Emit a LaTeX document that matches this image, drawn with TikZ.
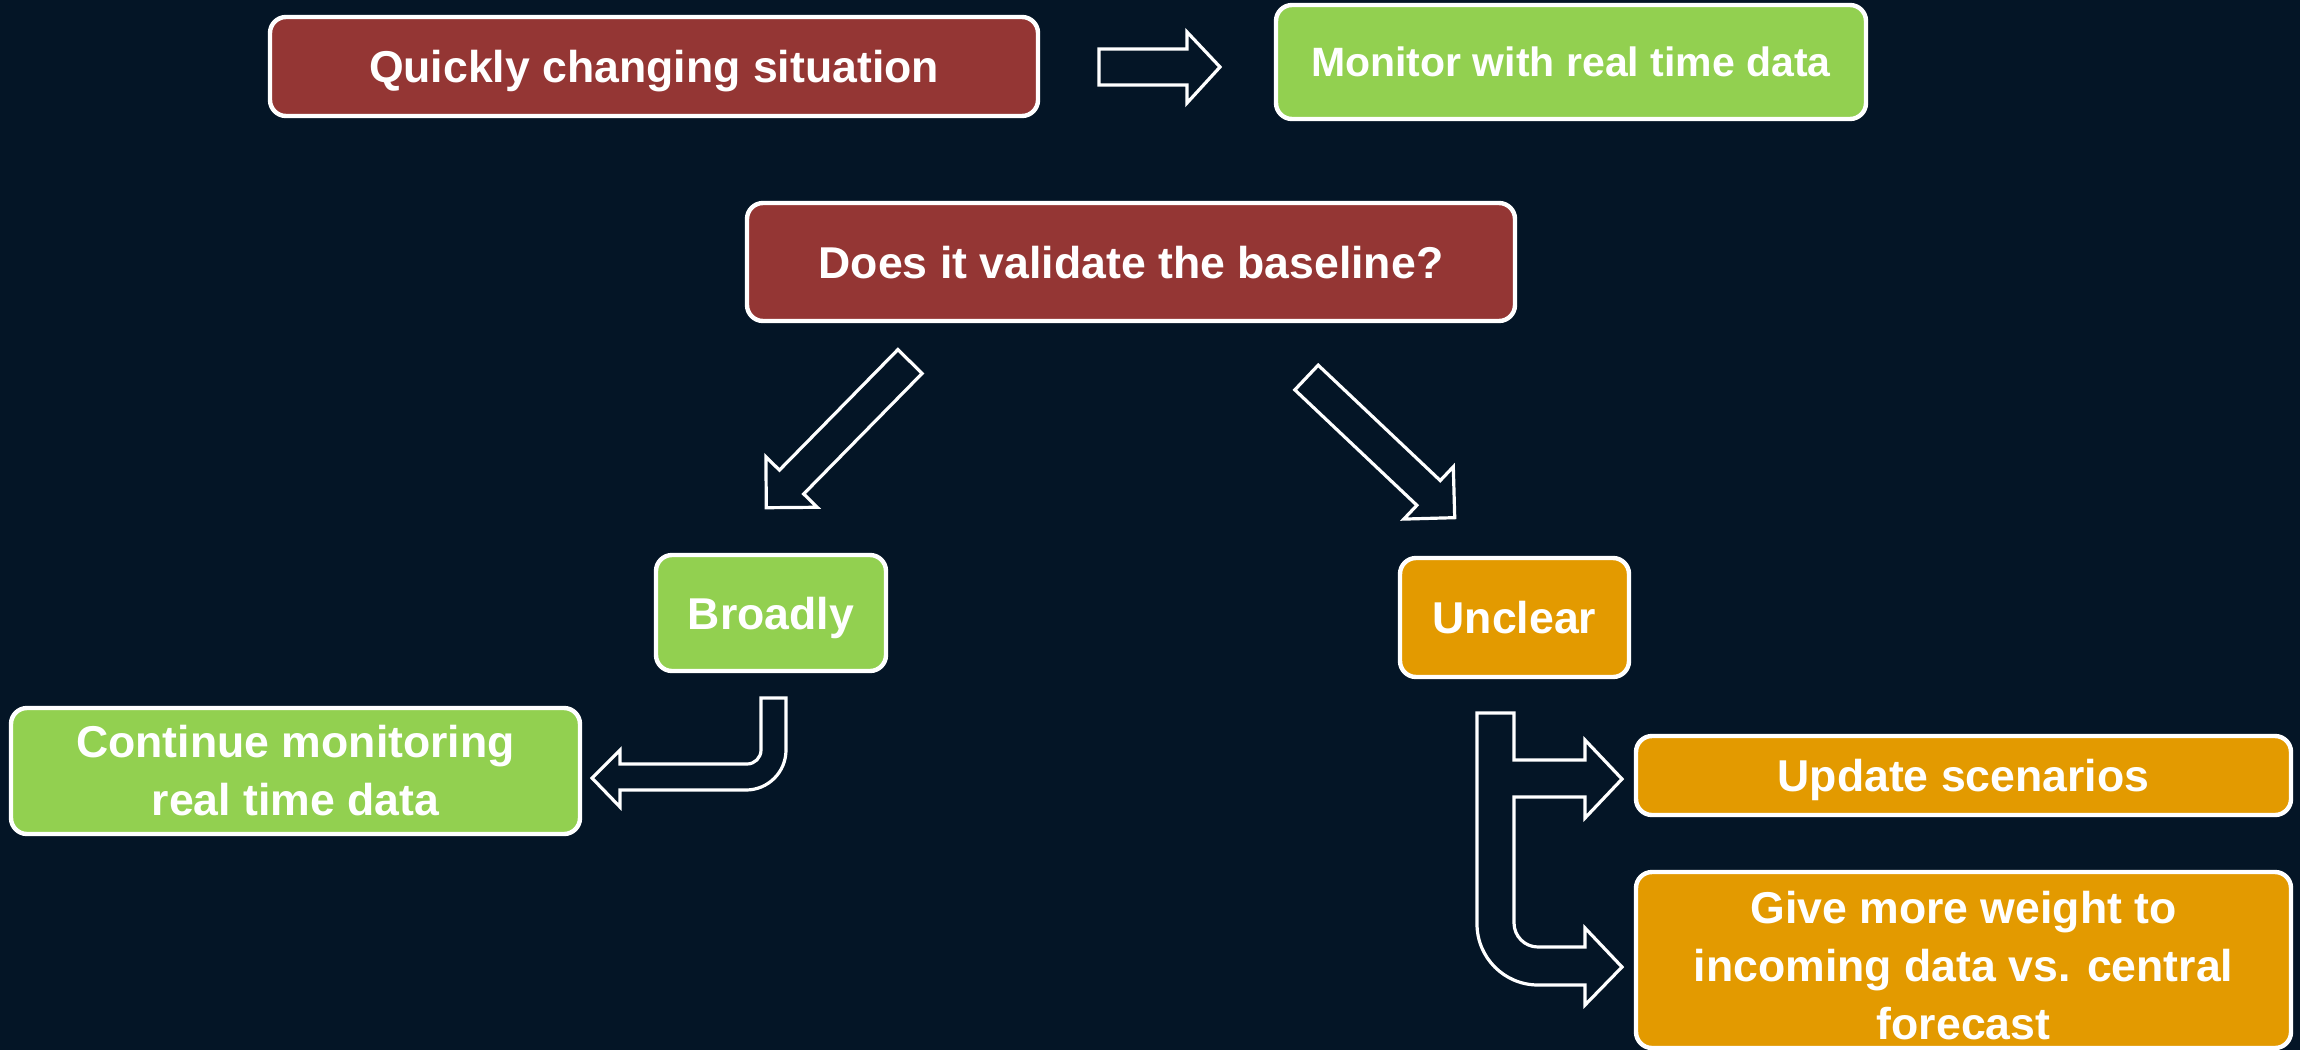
\documentclass[tikz,border=0pt]{standalone}
\usepackage{fontspec}
\setmainfont{Liberation Sans}
\usepackage{tikz}

\definecolor{bgnavy}{HTML}{041526}
\definecolor{boxred}{HTML}{943634}
\definecolor{boxgreen}{HTML}{92D050}
\definecolor{boxorange}{HTML}{E39A00}

\tikzset{
    box/.style={draw=white, line width=2.2pt, rounded corners=8pt, text=white,
        font=\bfseries\fontsize{22.3}{29}\selectfont, align=center, inner sep=0pt},
    oneline/.style={text height=16pt, text depth=0pt},
    bigarrow/.style={draw=white, line width=1.6pt, fill=bgnavy, line join=miter}
}

\begin{document}
\begin{tikzpicture}[x=0.5pt, y=-0.5pt]
            \fill[bgnavy] (0,0) rectangle (2300,1050);
            \useasboundingbox (0,0) rectangle (2300,1050);

            % Top row
            \node[box, oneline, fill=boxred, minimum width=384pt, minimum height=49.5pt] (quick) at (654,66.5) {Quickly changing situation};
            \node[box, fill=boxgreen, minimum width=295pt, minimum height=57pt, font=\bfseries\fontsize{20.5}{25}\selectfont,
                text height=14.7pt, text depth=0pt] (monitor) at (1571,62) {Monitor with real time data};
            \draw[bigarrow] (1099,49) -- (1187,49) -- (1187,32) -- (1220,67) -- (1187,103) -- (1187,85) -- (1099,85) -- cycle;

            % Question
            \node[box, oneline, fill=boxred, minimum width=384pt, minimum height=59pt] (valid) at (1131,262) {Does it validate the baseline?};

            % Diagonal arrows
            \begin{scope}[shift={(910,361.5)}, rotate=225.5]
                \draw[bigarrow] (0,-17) -- (169,-17) -- (169,-36) -- (205,0) -- (169,36) -- (169,17) -- (0,17) -- cycle;
            \end{scope}
            \begin{scope}[shift={(1306.5,377.5)}, rotate=-43.4]
                \draw[bigarrow] (0,-17) -- (168,-17) -- (168,-36) -- (204,0) -- (168,36) -- (168,17) -- (0,17) -- cycle;
            \end{scope}

            % Answers
            \node[box, oneline, fill=boxgreen, minimum width=115pt, minimum height=58pt] (broadly) at (771,613) {Broadly};
            \node[box, oneline, fill=boxorange, minimum width=114.5pt, minimum height=59.5pt] (unclear) at (1514.5,617.5) {Unclear};

            % Left branch
            \node[box, fill=boxgreen, minimum width=284.5pt, minimum height=63pt] (contin) at (295.5,771) {Continue monitoring\\real time data};
            \draw[bigarrow] (761,698) -- (786,698) -- (786,750) arc[start angle=0, end angle=90, radius=40]
                -- (620,790) -- (620,807) -- (592,778) -- (620,750) -- (620,764) -- (747,764)
                arc[start angle=90, end angle=0, radius=14] -- cycle;

            % Right branch
            \node[box, oneline, fill=boxorange, minimum width=327.5pt, minimum height=39.5pt] (update) at (1963.5,775.5) {Update scenarios};
            \node[box, fill=boxorange, minimum width=327.5pt, minimum height=88pt] (weight) at (1963.5,960) {};
            \node[text=white, font=\bfseries\fontsize{22.3}{29}\selectfont, align=center, inner sep=0pt] (weighttext)
                at ([yshift=-3pt]weight.center) {Give more weight to\\incoming data vs. central\\forecast};
            \draw[bigarrow] (1477,713) -- (1514,713) -- (1514,760) -- (1585,760) -- (1585,740) -- (1622,779)
                -- (1585,818) -- (1585,797) -- (1514,797) -- (1514,923)
                arc[start angle=180, end angle=90, radius=24] -- (1585,947) -- (1585,928) -- (1622,967)
                -- (1585,1005) -- (1585,985) -- (1538,985) arc[start angle=90, end angle=180, radius=61] -- cycle;

\end{tikzpicture}
\end{document}
